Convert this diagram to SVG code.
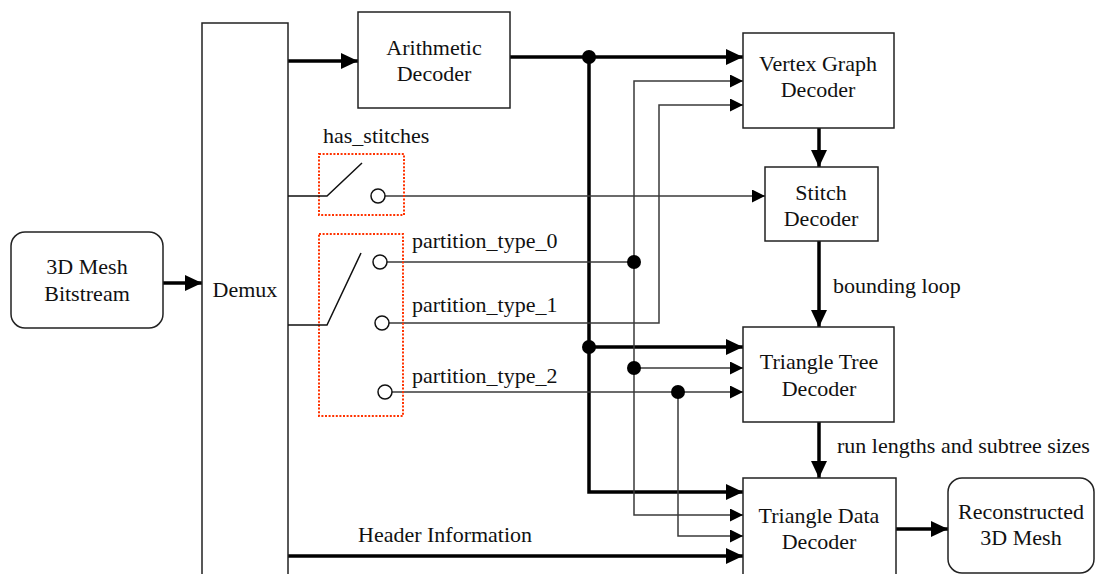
<svg xmlns="http://www.w3.org/2000/svg" width="1095" height="574" viewBox="0 0 1095 574">
<style>
  .box { fill: #fff; stroke: #222; stroke-width: 1.5; }
  .t { font-family: "Liberation Serif", "Times New Roman", serif; font-size: 22px; fill: #111; }
  .c { text-anchor: middle; }
  .thick { fill: none; stroke: #000; stroke-width: 3.5; }
  .thin { fill: none; stroke: #3a3a3a; stroke-width: 1.5; }
  .sw { fill: none; stroke: #111; stroke-width: 1.5; }
  .dot { fill: #000; }
  .term { fill: #fff; stroke: #111; stroke-width: 1.5; }
  .sel { fill: none; stroke: #ff3300; stroke-width: 2; stroke-dasharray: 2 1.6; }
</style>
<defs>
  <marker id="ahk" viewBox="0 0 17 16" refX="17" refY="8" markerWidth="17" markerHeight="16" markerUnits="userSpaceOnUse" orient="auto">
    <path d="M0,0 L17,8 L0,16 z" fill="#000"/>
  </marker>
  <marker id="aht" viewBox="0 0 13 13" refX="13" refY="6.5" markerWidth="13" markerHeight="13" markerUnits="userSpaceOnUse" orient="auto">
    <path d="M0,0 L13,6.5 L0,13 z" fill="#000"/>
  </marker>
</defs>

<g id="connectors">
  <line class="thick" x1="163" y1="283" x2="202" y2="283" marker-end="url(#ahk)"/>
  <line class="thick" x1="288" y1="61" x2="358" y2="61" marker-end="url(#ahk)"/>
  <line class="thick" x1="510" y1="57" x2="743" y2="57" marker-end="url(#ahk)"/>
  <path class="thick" d="M589,57 L589,492 L743,492" marker-end="url(#ahk)"/>
  <line class="thick" x1="589" y1="347" x2="743" y2="347" marker-end="url(#ahk)"/>
  <line class="thick" x1="288" y1="556" x2="743" y2="556" marker-end="url(#ahk)"/>
  <line class="thick" x1="819" y1="128" x2="819" y2="167" marker-end="url(#ahk)"/>
  <line class="thick" x1="819" y1="241" x2="819" y2="327" marker-end="url(#ahk)"/>
  <line class="thick" x1="819" y1="422" x2="819" y2="478" marker-end="url(#ahk)"/>
  <line class="thick" x1="896" y1="529" x2="948" y2="529" marker-end="url(#ahk)"/>

  <line class="thin" x1="385" y1="196" x2="765" y2="196" marker-end="url(#aht)"/>
  <line class="thin" x1="387" y1="262" x2="634" y2="262"/>
  <path class="thin" d="M634,262 L634,81 L743,81" marker-end="url(#aht)"/>
  <path class="thin" d="M634,262 L634,515 L743,515" marker-end="url(#aht)"/>
  <line class="thin" x1="634" y1="368" x2="743" y2="368" marker-end="url(#aht)"/>
  <path class="thin" d="M389,323 L659,323 L659,105 L743,105" marker-end="url(#aht)"/>
  <line class="thin" x1="392" y1="392" x2="743" y2="392" marker-end="url(#aht)"/>
  <path class="thin" d="M678,392 L678,536 L743,536" marker-end="url(#aht)"/>

  <circle class="dot" cx="589" cy="57" r="7"/>
  <circle class="dot" cx="589" cy="347" r="7"/>
  <circle class="dot" cx="634" cy="262" r="7"/>
  <circle class="dot" cx="634" cy="368" r="7"/>
  <circle class="dot" cx="678" cy="392" r="7"/>

  <text class="t" x="358" y="542">Header Information</text>
  <text class="t" x="833" y="293">bounding loop</text>
  <text class="t" x="837" y="453">run lengths and subtree sizes</text>
</g>

<g id="bitstream">
  <rect class="box" x="11" y="232" width="152" height="96" rx="14"/>
  <text class="t c" x="87" y="274">3D Mesh</text>
  <text class="t c" x="87" y="301">Bitstream</text>
</g>

<g id="demux">
  <rect class="box" x="202" y="23" width="86" height="570"/>
  <text class="t c" x="245" y="297">Demux</text>
</g>

<g id="arith">
  <rect class="box" x="358" y="12" width="152" height="96"/>
  <text class="t c" x="434" y="55">Arithmetic</text>
  <text class="t c" x="434" y="81">Decoder</text>
</g>

<g id="vertexgraph">
  <rect class="box" x="743" y="33" width="151" height="95"/>
  <text class="t c" x="818" y="71">Vertex Graph</text>
  <text class="t c" x="818" y="97">Decoder</text>
</g>

<g id="stitch">
  <rect class="box" x="765" y="167" width="113" height="74"/>
  <text class="t c" x="821" y="200">Stitch</text>
  <text class="t c" x="821" y="226">Decoder</text>
</g>

<g id="tritree">
  <rect class="box" x="743" y="327" width="151" height="95"/>
  <text class="t c" x="819" y="369">Triangle Tree</text>
  <text class="t c" x="819" y="396">Decoder</text>
</g>

<g id="tridata">
  <rect class="box" x="743" y="478" width="153" height="110"/>
  <text class="t c" x="819" y="523">Triangle Data</text>
  <text class="t c" x="819" y="549">Decoder</text>
</g>

<g id="recon">
  <rect class="box" x="948" y="478" width="146" height="95" rx="14"/>
  <text class="t c" x="1021" y="519">Reconstructed</text>
  <text class="t c" x="1021" y="545">3D Mesh</text>
</g>

<g id="switch-stitches">
  <rect class="sel" x="319" y="154" width="85" height="61"/>
  <path class="sw" d="M288,196 L327,196 L362,163"/>
  <circle class="term" cx="378" cy="196" r="7"/>
  <text class="t" x="323" y="143">has_stitches</text>
</g>

<g id="switch-partition">
  <rect class="sel" x="319" y="234" width="84" height="182"/>
  <path class="sw" d="M288,325 L327,325 L361,253"/>
  <circle class="term" cx="380" cy="262" r="7"/>
  <circle class="term" cx="382" cy="323" r="7"/>
  <circle class="term" cx="385" cy="392" r="7"/>
  <text class="t" x="412" y="248">partition_type_0</text>
  <text class="t" x="412" y="312">partition_type_1</text>
  <text class="t" x="412" y="383">partition_type_2</text>
</g>
</svg>
